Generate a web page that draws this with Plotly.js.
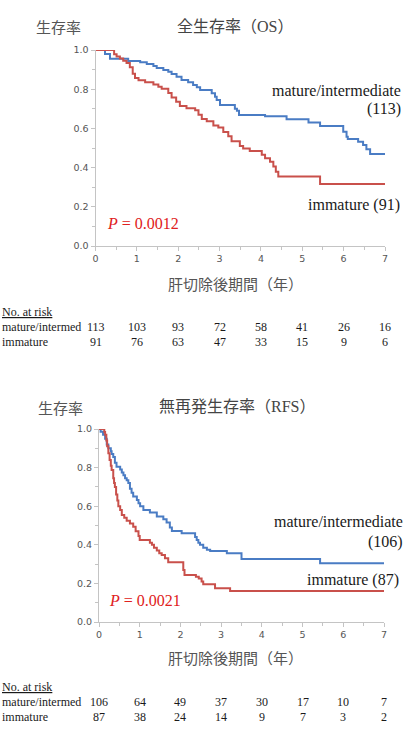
<!DOCTYPE html>
<html>
<head>
<meta charset="utf-8">
<script src="https://cdn.plot.ly/plotly-3.0.1.min.js"></script>
<style>html,body{margin:0;padding:0;background:#fff;}#chart{width:406px;height:749px;}</style>
</head>
<body>
<div id="chart"></div>
<script>
// ---- Overall survival (OS) ----
const osMatureT = [0, 0.23, 0.35, 0.79, 1.08, 1.24, 1.40, 1.48, 1.64, 1.76, 1.84, 1.96, 2.08, 2.24, 2.36, 2.45, 2.53, 2.81, 2.89, 2.93, 3.01, 3.37, 3.42, 3.47, 4.10, 4.62, 5.15, 5.43, 5.99, 6.07, 6.10, 6.35, 6.47, 6.55, 6.64, 7.0];
const osMatureS = [1.0, 0.98, 0.955, 0.944, 0.937, 0.929, 0.918, 0.908, 0.898, 0.889, 0.878, 0.864, 0.847, 0.835, 0.821, 0.81, 0.796, 0.779, 0.762, 0.745, 0.72, 0.70, 0.69, 0.668, 0.662, 0.647, 0.63, 0.612, 0.583, 0.558, 0.546, 0.532, 0.515, 0.493, 0.469, 0.469];
const osImmT = [0, 0.45, 0.51, 0.59, 0.67, 0.75, 0.83, 0.90, 0.955, 1.04, 1.20, 1.40, 1.52, 1.60, 1.76, 1.84, 1.95, 2.04, 2.20, 2.41, 2.49, 2.57, 2.69, 2.85, 2.97, 3.09, 3.21, 3.29, 3.49, 3.57, 3.73, 4.02, 4.10, 4.22, 4.30, 4.36, 4.42, 5.43, 7.0];
const osImmS = [1.0, 0.978, 0.967, 0.956, 0.945, 0.934, 0.912, 0.879, 0.857, 0.846, 0.835, 0.824, 0.813, 0.802, 0.78, 0.758, 0.736, 0.714, 0.703, 0.692, 0.67, 0.648, 0.637, 0.615, 0.604, 0.582, 0.56, 0.535, 0.51, 0.497, 0.485, 0.466, 0.448, 0.43, 0.405, 0.379, 0.354, 0.316, 0.316];

// ---- Recurrence-free survival (RFS) ----
const rfsMatureT = [0, 0.04, 0.10, 0.15, 0.19, 0.23, 0.29, 0.31, 0.35, 0.39, 0.43, 0.52, 0.56, 0.60, 0.64, 0.68, 0.72, 0.76, 0.80, 0.84, 0.93, 0.97, 1.01, 1.09, 1.25, 1.42, 1.58, 1.66, 1.74, 1.79, 2.03, 2.36, 2.40, 2.44, 2.48, 2.56, 2.65, 2.73, 3.14, 3.50, 5.43, 7.0];
const rfsMatureS = [1.0, 0.986, 0.97, 0.95, 0.92, 0.90, 0.885, 0.87, 0.855, 0.825, 0.805, 0.79, 0.775, 0.76, 0.745, 0.735, 0.72, 0.69, 0.67, 0.65, 0.632, 0.615, 0.60, 0.58, 0.567, 0.546, 0.532, 0.515, 0.49, 0.472, 0.46, 0.44, 0.425, 0.41, 0.40, 0.385, 0.375, 0.368, 0.356, 0.326, 0.304, 0.304];
const rfsImmT = [0, 0.13, 0.15, 0.18, 0.20, 0.23, 0.26, 0.29, 0.31, 0.35, 0.37, 0.39, 0.42, 0.45, 0.475, 0.52, 0.56, 0.62, 0.68, 0.76, 0.84, 0.90, 0.97, 1.00, 1.25, 1.30, 1.35, 1.42, 1.48, 1.54, 1.62, 1.70, 2.07, 2.10, 2.38, 2.45, 2.52, 2.56, 2.85, 3.22, 7.0];
const rfsImmS = [1.0, 0.985, 0.97, 0.94, 0.91, 0.874, 0.84, 0.81, 0.788, 0.745, 0.72, 0.70, 0.66, 0.63, 0.60, 0.58, 0.555, 0.54, 0.525, 0.51, 0.494, 0.47, 0.445, 0.425, 0.41, 0.40, 0.385, 0.37, 0.356, 0.347, 0.33, 0.31, 0.27, 0.243, 0.235, 0.226, 0.21, 0.195, 0.175, 0.16, 0.16];

// ---- Numbers at risk ----
const riskYears = [0, 1, 2, 3, 4, 5, 6, 7];
const osRiskMature = [113, 103, 93, 72, 58, 41, 26, 16];
const osRiskImm = [91, 76, 63, 47, 33, 15, 9, 6];
const rfsRiskMature = [106, 64, 49, 37, 30, 17, 10, 7];
const rfsRiskImm = [87, 38, 24, 14, 9, 7, 3, 2];

// ---- Tick labels ----
const xTickVals = [0, 1, 2, 3, 4, 5, 6, 7];
const yTickVals = [0, 0.2, 0.4, 0.6, 0.8, 1.0];
const yTickText = ['0.0', '0.2', '0.4', '0.6', '0.8', '1.0'];

const BLUE = '#4a7cc4';
const RED = '#c9504b';
const W = 406, H = 749;
const py = p => 1 - p / H;
const px = p => p / W;

const SERIF = 'Liberation Serif';
const CJK = 'Noto Sans CJK JP';
const TITLEF = 'Liberation Serif';

const traces = [
  {x: osMatureT, y: osMatureS, xaxis: 'x', yaxis: 'y', mode: 'lines', line: {shape: 'hv', color: BLUE, width: 2}, hoverinfo: 'skip'},
  {x: osImmT, y: osImmS, xaxis: 'x', yaxis: 'y', mode: 'lines', line: {shape: 'hv', color: RED, width: 2}, hoverinfo: 'skip'},
  {x: rfsMatureT, y: rfsMatureS, xaxis: 'x2', yaxis: 'y2', mode: 'lines', line: {shape: 'hv', color: BLUE, width: 2}, hoverinfo: 'skip'},
  {x: rfsImmT, y: rfsImmS, xaxis: 'x2', yaxis: 'y2', mode: 'lines', line: {shape: 'hv', color: RED, width: 2}, hoverinfo: 'skip'}
];

function xAx(domain, anchor) {
  return {
    domain: domain, anchor: anchor, range: [0, 7], showgrid: false, zeroline: false,
    showline: true, linecolor: '#c4c4c4', linewidth: 1,
    ticks: 'outside', ticklen: 4, tickcolor: '#c4c4c4', tickvals: xTickVals,
    tickfont: {family: 'DejaVu Sans', size: 9.5, color: '#555'},
    minor: {ticks: 'outside', ticklen: 3, dtick: 0.5, tickcolor: '#c4c4c4', showgrid: false},
    fixedrange: true
  };
}
function yAx(domain, anchor) {
  return {
    domain: domain, anchor: anchor, range: [0, 1], showgrid: false, zeroline: false,
    showline: true, linecolor: '#c4c4c4', linewidth: 1,
    ticks: 'outside', ticklen: 4, tickcolor: '#c4c4c4', tickvals: yTickVals, ticktext: yTickText,
    tickfont: {family: 'DejaVu Sans', size: 9.5, color: '#555'},
    minor: {ticks: 'outside', ticklen: 3, dtick: 0.1, tickcolor: '#c4c4c4', showgrid: false},
    fixedrange: true
  };
}

const ann = [];
function txt(text, x, y, xanchor, size, color, family, extra) {
  ann.push(Object.assign({text: text, x: x, y: y, xref: 'paper', yref: 'paper', xanchor: xanchor, yanchor: 'middle', showarrow: false,
    font: {size: size, color: color, family: family}}, extra || {}));
}
const L = s => '<span style="font-family:Liberation Serif">' + s + '</span>';

// Top chart texts
txt('生存率', px(58), py(27), 'center', 15, '#555', CJK);
txt('全生存率（' + L('OS') + '）', px(235), py(25), 'center', 16, '#444', CJK);
txt('mature/intermediate', px(403), py(90), 'right', 16, '#1a1a1a', SERIF);
txt('(113)', px(403), py(109), 'right', 16, '#1a1a1a', SERIF);
txt('immature (91)', px(402), py(205), 'right', 16, '#1a1a1a', SERIF);
txt('<i>P</i> = 0.0012', px(105), py(223), 'left', 16, '#e02020', SERIF);
txt('肝切除後期間（年）', px(235), py(283), 'center', 15, '#555', CJK);
txt('<u>No. at risk</u>', 0, py(311.5), 'left', 12, '#1a1a1a', SERIF);
txt('mature/intermed', 0, py(326.7), 'left', 12, '#1a1a1a', SERIF);
txt('immature', 0, py(341.7), 'left', 12, '#1a1a1a', SERIF);

// Bottom chart texts
txt('生存率', px(60), py(407), 'center', 15, '#555', CJK);
txt('無再発生存率（' + L('RFS') + '）', px(237), py(405), 'center', 16, '#444', CJK);
txt('mature/intermediate', px(405), py(521.7), 'right', 16, '#1a1a1a', SERIF);
txt('(106)', px(405), py(541.7), 'right', 16, '#1a1a1a', SERIF);
txt('immature (87)', px(401), py(580), 'right', 16, '#1a1a1a', SERIF);
txt('<i>P</i> = 0.0021', px(107), py(600), 'left', 16, '#e02020', SERIF);
txt('肝切除後期間（年）', px(236), py(657), 'center', 15, '#555', CJK);
txt('<u>No. at risk</u>', 0, py(686.7), 'left', 12, '#1a1a1a', SERIF);
txt('mature/intermed', 0, py(701.7), 'left', 12, '#1a1a1a', SERIF);
txt('immature', 0, py(716.7), 'left', 12, '#1a1a1a', SERIF);

// Risk numbers positioned via the axes' own scales
function riskRow(vals, xref, yPix) {
  vals.forEach((v, i) => {
    ann.push({text: String(v), x: riskYears[i], y: py(yPix), xref: xref, yref: 'paper', xanchor: 'center', yanchor: 'middle',
      showarrow: false, font: {size: 12, color: '#1a1a1a', family: SERIF}});
  });
}
riskRow(osRiskMature, 'x', 326.7);
riskRow(osRiskImm, 'x', 341.7);
riskRow(rfsRiskMature, 'x2', 701.7);
riskRow(rfsRiskImm, 'x2', 716.7);

const layout = {
  width: W, height: H, margin: {l: 0, r: 0, t: 0, b: 0},
  paper_bgcolor: '#fff', plot_bgcolor: '#fff', showlegend: false,
  xaxis: xAx([px(95.5), px(385)], 'y'),
  yaxis: yAx([py(246), py(50)], 'x'),
  xaxis2: xAx([px(99), px(384)], 'y2'),
  yaxis2: yAx([py(622), py(429)], 'x2'),
  annotations: ann
};

Plotly.newPlot('chart', traces, layout, {staticPlot: true, displayModeBar: false});
</script>
</body>
</html>
